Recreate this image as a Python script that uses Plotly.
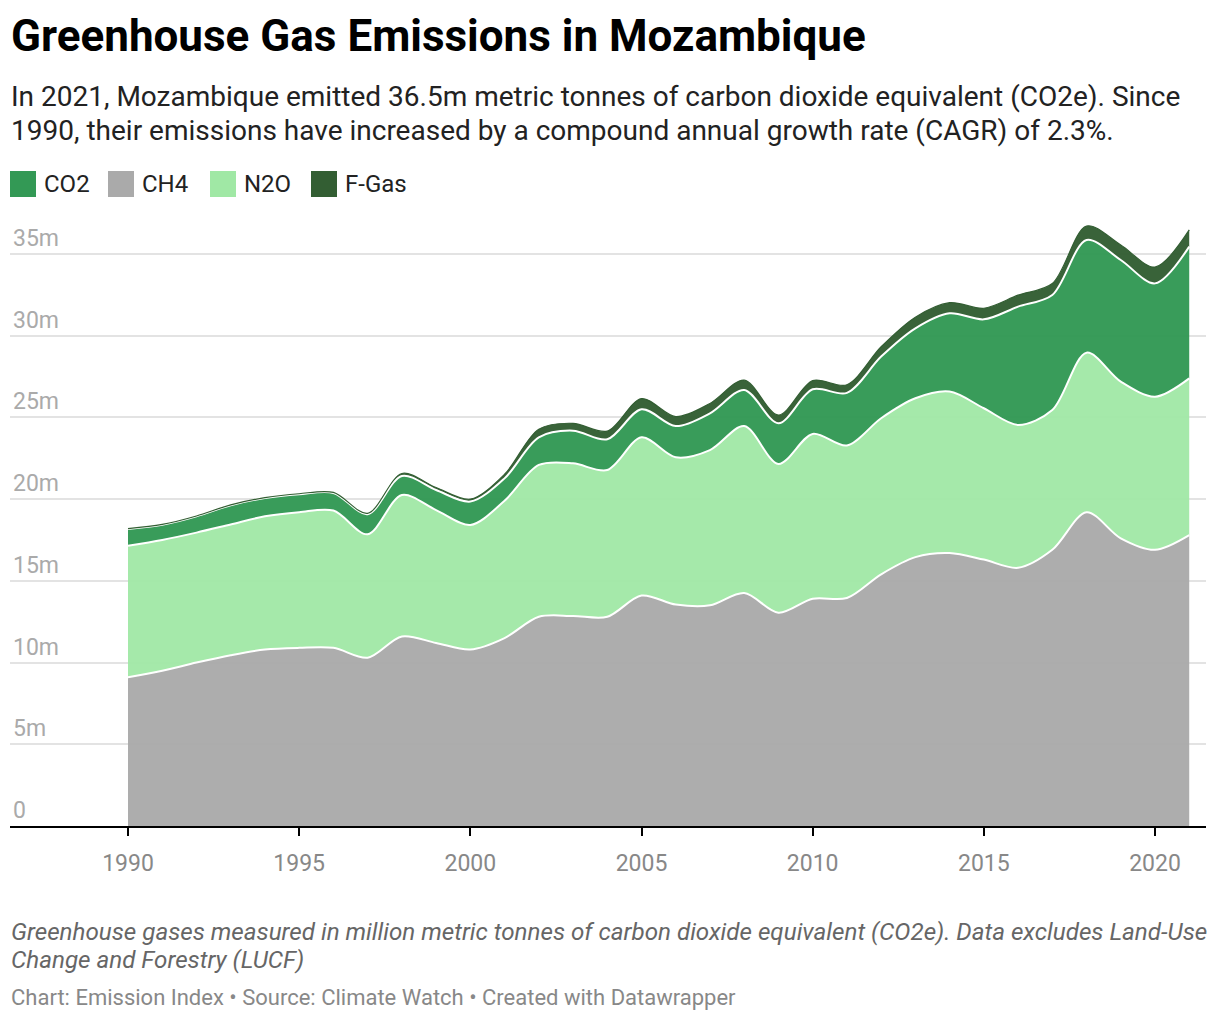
import plotly.graph_objects as go

# ---------------- data (million tonnes CO2e) ----------------
years = list(range(1990, 2022))
ch4 = [9.1, 9.5, 10.0, 10.45, 10.8, 10.9, 10.9, 10.3, 11.6, 11.2, 10.8, 11.5, 12.8, 12.85, 12.8, 14.1,
       13.55, 13.5, 14.25, 13.05, 13.9, 13.95, 15.4, 16.45, 16.7, 16.3, 15.8, 16.9, 19.2, 17.6, 16.9, 17.8]
n2o = [8.05, 8.0, 7.95, 8.0, 8.15, 8.3, 8.4, 7.55, 8.65, 8.13, 7.62, 8.4, 9.29, 9.34, 8.98, 9.68,
       9.01, 9.5, 10.22, 9.1, 10.09, 9.33, 9.55, 9.72, 9.88, 9.26, 8.74, 8.55, 9.76, 9.59, 9.37, 9.59]
co2 = [1.02, 0.93, 1.0, 1.18, 1.12, 1.1, 1.08, 1.23, 1.17, 1.23, 1.43, 1.37, 1.69, 2.0, 1.88, 1.72,
       1.91, 2.25, 2.21, 2.49, 2.73, 3.22, 3.77, 4.28, 4.79, 5.44, 7.24, 7.04, 6.9, 7.44, 6.93, 8.06]
fgas = [0.02, 0.02, 0.02, 0.02, 0.02, 0.03, 0.03, 0.05, 0.15, 0.15, 0.15, 0.25, 0.5, 0.45, 0.5, 0.65,
        0.58, 0.6, 0.6, 0.5, 0.53, 0.5, 0.6, 0.68, 0.65, 0.68, 0.7, 0.7, 0.85, 0.92, 1.0, 1.02]

x_tickvals = [1990, 1995, 2000, 2005, 2010, 2015, 2020]
x_ticktext = ["1990", "1995", "2000", "2005", "2010", "2015", "2020"]
y_tickvals = [0, 5, 10, 15, 20, 25, 30, 35]
y_ticktext = ["0", "5m", "10m", "15m", "20m", "25m", "30m", "35m"]

legend_names = ["CO2", "CH4", "N2O", "F-Gas"]

title = "Greenhouse Gas Emissions in Mozambique"
subtitle1 = "In 2021, Mozambique emitted 36.5m metric tonnes of carbon dioxide equivalent (CO2e). Since"
subtitle2 = "1990, their emissions have increased by a compound annual growth rate (CAGR) of 2.3%."
note1 = "Greenhouse gases measured in million metric tonnes of carbon dioxide equivalent (CO2e). Data excludes Land-Use"
note2 = "Change and Forestry (LUCF)"
credit = "Chart: Emission Index • Source: Climate Watch • Created with Datawrapper"

# ---------------- styling ----------------
OFF = 8                      # page body margin
W, H = 1212, 1012
ML, MR, MT, MB = 2, 14, 202, 194
PW = W - ML - MR
PH = H - MT - MB
Y_TOP = 37.69                # value at top of plot area

COL = {"CO2": "#339955", "CH4": "#aaaaaa", "N2O": "#a0e8a5", "F-Gas": "#335e33"}
FILL = {"CO2": "rgba(51,153,85,0.97)", "CH4": "rgba(170,170,170,0.97)",
        "N2O": "rgba(160,232,165,0.95)", "F-Gas": "rgba(51,94,51,0.97)"}
FONT = "Roboto, 'Noto Sans', sans-serif"


def pxx(x):
    return (x - OFF - ML) / PW


def pxy(y):
    return (H - MB - (y - OFF)) / PH


fig = go.Figure()
series = [("CH4", ch4, "white", 2), ("N2O", n2o, "white", 2),
          ("CO2", co2, "white", 2), ("F-Gas", fgas, COL["F-Gas"], 1.2)]
for name, vals, lc, lw in series:
    fig.add_trace(go.Scatter(
        x=years, y=vals, name=name, mode="lines", stackgroup="one",
        line=dict(color=lc, width=lw, shape="spline", smoothing=0.9),
        fillcolor=FILL[name], hoverinfo="skip", showlegend=False))

annotations = [
    dict(text=f"<b>{title}</b>", x=pxx(9), y=pxy(36), xanchor="left", yanchor="middle",
         font=dict(size=44, color="#000000", family=FONT)),
    dict(text=subtitle1, x=pxx(9), y=pxy(97), xanchor="left", yanchor="middle",
         font=dict(size=28, color="#222222", family=FONT)),
    dict(text=subtitle2, x=pxx(9), y=pxy(131), xanchor="left", yanchor="middle",
         font=dict(size=28, color="#222222", family=FONT)),
    dict(text=f"<i>{note1}</i>", x=pxx(9), y=pxy(932), xanchor="left", yanchor="middle",
         font=dict(size=24.2, color="#666666", family=FONT)),
    dict(text=f"<i>{note2}</i>", x=pxx(9), y=pxy(960), xanchor="left", yanchor="middle",
         font=dict(size=24.2, color="#666666", family=FONT)),
    dict(text=credit, x=pxx(9), y=pxy(997), xanchor="left", yanchor="middle",
         font=dict(size=22, color="#888888", family=FONT)),
]

shapes = []
leg_x = [10, 108, 210, 311]
for name, lx in zip(legend_names, leg_x):
    shapes.append(dict(type="rect", xref="paper", yref="paper",
                       x0=pxx(lx), x1=pxx(lx + 26), y0=pxy(197), y1=pxy(171),
                       fillcolor=COL[name], line=dict(width=0)))
    annotations.append(dict(text=name, x=pxx(lx + 32), y=pxy(184), xanchor="left", yanchor="middle",
                            font=dict(size=24, color="#222222", family=FONT)))

for a in annotations:
    a.update(xref="paper", yref="paper", showarrow=False)

fig.update_layout(
    width=W, height=H,
    margin=dict(l=ML, r=MR, t=MT, b=MB, pad=0),
    paper_bgcolor="white", plot_bgcolor="white",
    showlegend=False,
    font=dict(family=FONT),
    annotations=annotations, shapes=shapes,
    xaxis=dict(range=[1986.553, 2021.49], tickvals=x_tickvals, ticktext=x_ticktext,
               showgrid=False, zeroline=False, showline=True, linecolor="#000000", linewidth=2,
               ticks="outside", ticklen=8, tickwidth=2, tickcolor="#000000",
               tickfont=dict(size=23, color="#888888", family=FONT), ticklabelstandoff=7,
               fixedrange=True),
    yaxis=dict(range=[0, Y_TOP], tickvals=y_tickvals, ticktext=y_ticktext,
               showgrid=True, gridcolor="#e3e3e3", gridwidth=2, zeroline=False, showline=False,
               ticklabelposition="inside top", ticks="",
               tickfont=dict(size=23, color="#aaaaaa", family=FONT), fixedrange=True),
)

fig.write_html("out.html")
